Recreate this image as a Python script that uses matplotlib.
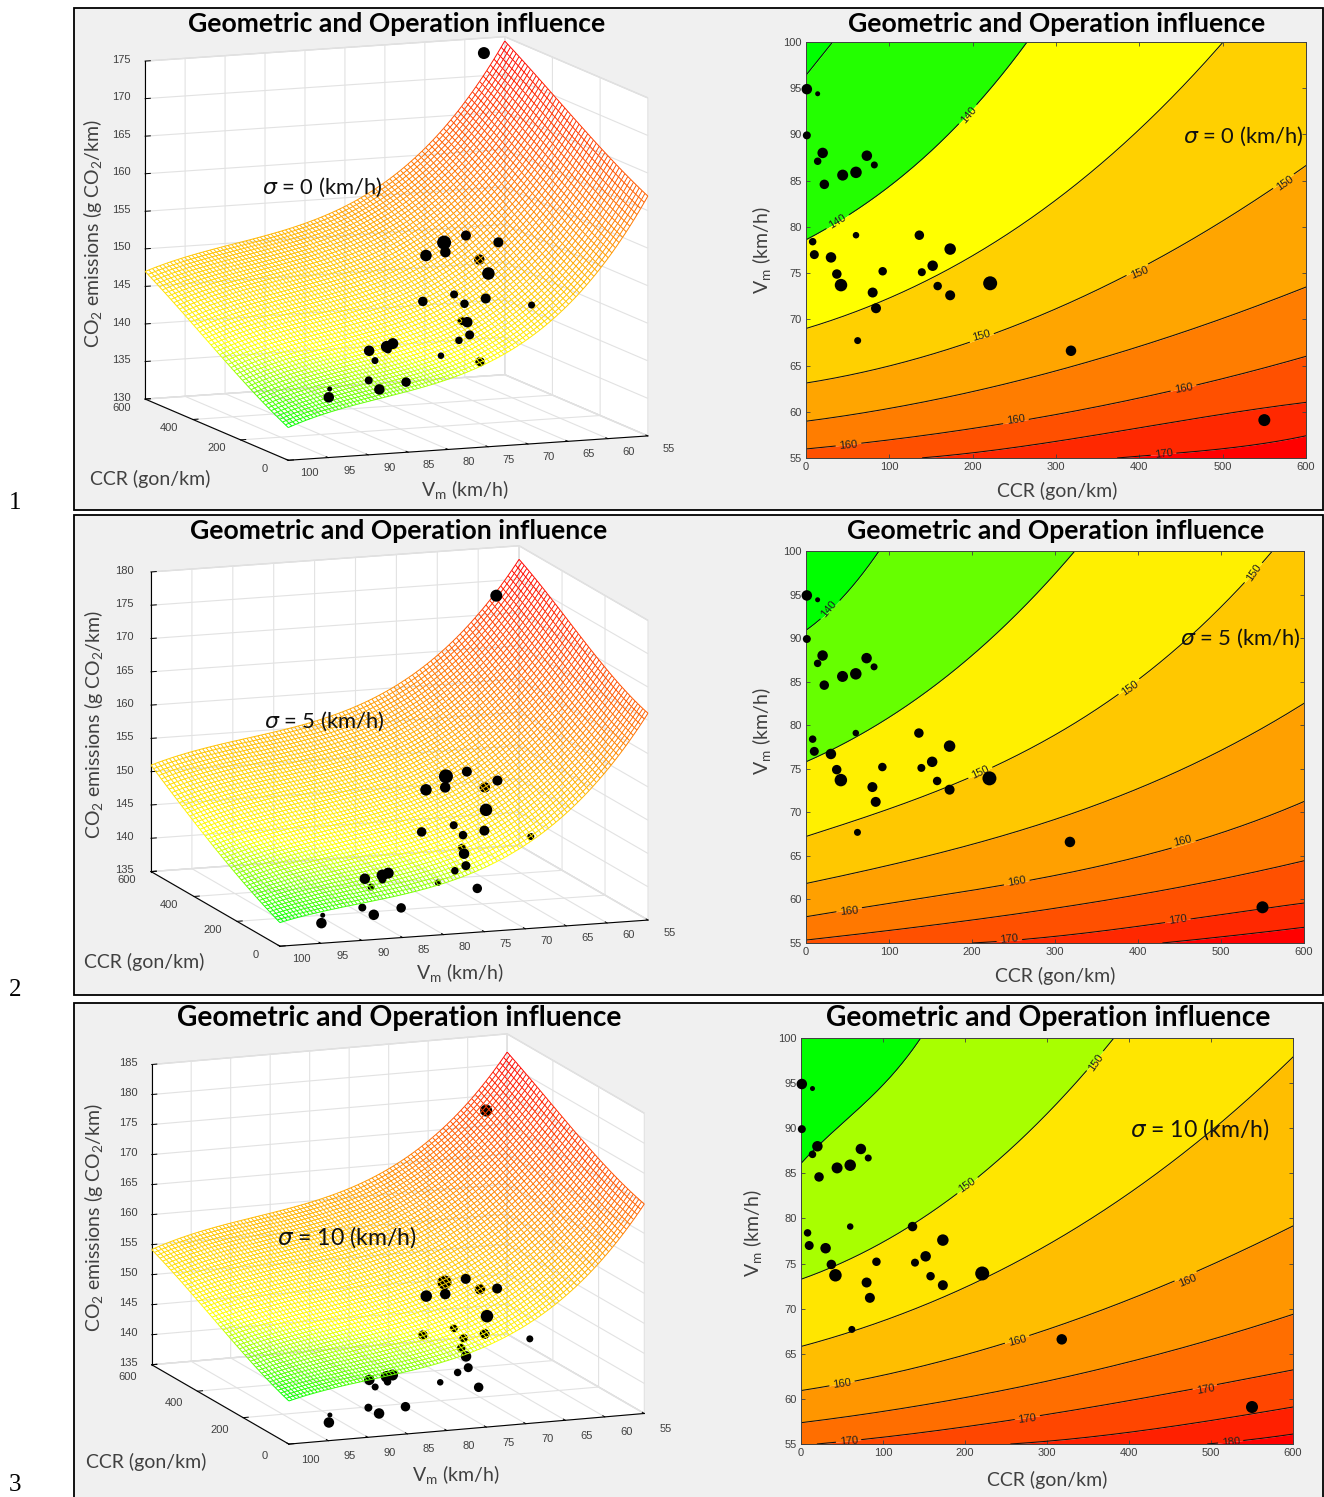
import numpy as np
import matplotlib
matplotlib.use("Agg")
import matplotlib.pyplot as plt
from matplotlib.colors import LinearSegmentedColormap
from matplotlib.patches import Rectangle
from mpl_toolkits.mplot3d import proj3d
from mpl_toolkits.mplot3d.art3d import Line3DCollection

W, H = 1324, 1497
plt.rcParams['font.family'] = ['Lato', 'DejaVu Sans']
plt.rcParams['mathtext.fontset'] = 'dejavusans'

# ---------- data ----------
DOT_CCR = [1, 14, 1, 20, 14, 22, 44, 60, 73, 82, 60, 8, 10, 30, 37, 42, 62, 80, 84, 92, 136, 139, 152, 158, 173, 173, 221, 318, 550]
DOT_VM = [94.9, 94.4, 89.9, 88, 87.1, 84.6, 85.6, 85.9, 87.7, 86.7, 79.1, 78.4, 77, 76.7, 74.9, 73.7, 67.7, 72.9, 71.2, 75.2, 79.1, 75.1, 75.8, 73.6, 77.6, 72.6, 73.9, 66.6, 59.1]
DOT_CO2 = [138.0, 138.9, 139.9, 138.3, 143.6, 139.0, 143.9, 143.3, 142.7, 141.2, 141.6, 144.3, 144.9, 146.3, 140.8, 152.4, 147.5, 148.5, 155.8, 147.8, 147.8, 148.4, 153.9, 144.5, 153.3, 155.6, 154.1, 150.0, 173.8]
DOT_DIAM_PX = [10.5, 5, 8, 10.5, 7.5, 9.5, 11, 11.5, 10.5, 7, 6.5, 7.5, 9, 10.5, 9.5, 12.5, 7, 10, 10, 8.5, 9.5, 8, 10.5, 8.5, 11.5, 10, 14, 10.5, 12]

CCR_TICKS = [0, 100, 200, 300, 400, 500, 600]
CCR_TICKS_3D = [0, 200, 400, 600]
VM_TICKS = [55, 60, 65, 70, 75, 80, 85, 90, 95, 100]
SIGMA_LABELS = ["0", "5", "10"]

LEVELS_0 = [135, 140, 145, 150, 155, 160, 165, 170]
CURVE_CCR_0 = [[0, 32], [0, 100, 200, 250, 266], [0, 100, 200, 300, 400, 500],
               [0, 100, 200, 300, 400, 500, 600], [0, 100, 200, 300, 400, 500, 600],
               [0, 100, 200, 300, 400, 500, 600], [140, 200, 300, 400, 500, 600], [373, 400, 500, 600]]
CURVE_VM_0 = [[96.4, 100], [78.6, 84.4, 92.7, 98.3, 100], [69.0, 72.3, 77, 82.7, 90.7, 99.9],
              [63.1, 64.9, 67.8, 71.2, 75.0, 81.1, 86.5], [59.0, 60.3, 62.2, 64.5, 67.0, 70.1, 73.5],
              [56, 56.9, 58.2, 59.8, 61.4, 63.6, 66], [55, 55.6, 56.8, 58.2, 59.8, 61.0], [55, 55.2, 56, 57.4]]
CORNERS_0 = [134.4, 147.0, 162.0, 174.5]

LEVELS_5 = [140, 145, 150, 155, 160, 165, 170, 175]
CURVE_CCR_5 = [[0, 50, 88], [0, 100, 200, 300, 324], [0, 100, 200, 300, 400, 500, 561],
               [0, 100, 200, 300, 400, 500, 600], [0, 100, 200, 300, 400, 500, 600],
               [0, 100, 200, 300, 400, 500, 600], [198, 300, 400, 500, 600], [429, 500, 600]]
CURVE_VM_5 = [[90.9, 95.3, 100], [75.8, 80.9, 88, 97.4, 100], [67.3, 70.2, 74.2, 79, 85.2, 93.4, 100],
              [61.9, 63.8, 66.2, 69.5, 72.7, 76.9, 82.6], [58.1, 59.3, 61.2, 62.8, 64.9, 67.5, 71.3],
              [55.4, 56.3, 57.6, 59.2, 60.5, 62.2, 64.5], [55, 55.7, 57, 58.2, 59.6], [55, 55.7, 56.8]]
CORNERS_5 = [138.6, 151.0, 166.2, 178.0]

LEVELS_10 = [145, 150, 155, 160, 165, 170, 175, 180]
CURVE_CCR_10 = [[0, 50, 100, 146], [0, 100, 200, 300, 381], [0, 100, 200, 300, 400, 500, 600],
                [0, 100, 200, 300, 400, 500, 600], [0, 100, 200, 300, 400, 500, 600],
                [18, 100, 200, 300, 400, 500, 600], [255, 300, 400, 500, 600], [495, 550, 600]]
CURVE_VM_10 = [[86.1, 90.5, 94.8, 100], [73.3, 77.2, 83.7, 91.4, 100], [65.8, 68.7, 72.2, 77.2, 82.7, 89.7, 97.9],
               [61, 62.4, 65, 67.8, 70.9, 74.8, 79.2], [57.4, 58.5, 60.2, 62, 64.1, 66.5, 69.4],
               [55, 55.7, 57, 58.2, 59.8, 61.5, 63.2], [55, 55.3, 56.3, 57.6, 59.1], [55, 55.5, 56.1]]
CORNERS_10 = [142.2, 154.2, 170.0, 182.0]

LABEL_CCR_0 = [195, 38, 575, 400, 210, 453, 252, 51, 429]
LABEL_VM_0 = [92.1, 80.6, 84.7, 75, 68.2, 62.5, 59.1, 56.4, 55.4]
LABEL_TXT_0 = ["140", "140", "150", "150", "150", "160", "160", "160", "170"]
LABEL_ROT_0 = [50, 32, 35, 22, 15, 10, 8, 5, 7]
LABEL_CCR_5 = [28, 540, 390, 210, 454, 254, 52, 448, 245]
LABEL_VM_5 = [93.3, 97.5, 84.3, 74.6, 66.7, 62.1, 58.7, 57.7, 55.4]
LABEL_TXT_5 = ["140", "150", "150", "150", "160", "160", "160", "170", "170"]
LABEL_ROT_5 = [50, 55, 35, 25, 13, 10, 5, 8, 6]
LABEL_CCR_10 = [360, 202, 471, 264, 50, 493, 276, 58, 524]
LABEL_VM_10 = [97.3, 83.7, 73.1, 66.4, 61.7, 61.1, 57.8, 55.3, 55.2]
LABEL_TXT_10 = ["150", "150", "160", "160", "160", "170", "170", "170", "180"]
LABEL_ROT_10 = [55, 35, 22, 14, 8, 10, 7, 5, 5]

# ---------- styles and layout ----------
BANDS = [
    ['#00FF00', '#23FF00', '#FFFF00', '#FFD000', '#FFA500', '#FF7D00', '#FF5000', '#FF2800', '#FF0000'],
    ['#00FF00', '#66FF00', '#FFF000', '#FFC800', '#FFA000', '#FF7800', '#FF5000', '#FF2800', '#FF0000'],
    ['#00FF00', '#A8FF00', '#FFE600', '#FFBE00', '#FF9600', '#FF6E00', '#FF4600', '#FF2000', '#FF0000'],
]
GREY = '#404040'
BG = '#F0F0F0'
CMAP = LinearSegmentedColormap.from_list('gyr', [(0, '#00FF00'), (0.17, '#FFFF00'), (1, '#FF0000')])

PANELS = [
    dict(rect=(74, 8, 1323, 510), num=("1", 15, 503),
         title3=(397, 24, 19.1), title2=(1057, 24, 19.1),
         box=(806, 42, 1306, 458), cx=396.5, cy=248.5, a=387, c=343, az=158.3, el=9.8,
         zlim=(130, 175), zticks=range(130, 176, 5),
         vlab=(-88, 4), clab=7, zlab=(103, -3),
         ccr=(150, 479), vm=(465, 490), co2=(93, 233), rv=(762, 250), rc=(1057, 491),
         s3=(322, 187), s2=(1243, 136)),
    dict(rect=(74, 515, 1323, 995), num=("2", 15, 990),
         title3=(399, 531, 19.1), title2=(1056, 531, 19.1),
         box=(806, 551, 1304, 943), cx=399.5, cy=746, a=390, c=306, az=160.7, el=11.7,
         zlim=(135, 180), zticks=range(135, 181, 5),
         vlab=(-100, 0), clab=7, zlab=(103.2, -3),
         ccr=(144, 962), vm=(460, 973), co2=(94, 724), rv=(762, 731), rc=(1055, 976),
         s3=(324, 721), s2=(1240, 638)),
    dict(rect=(74, 1003, 1323, 1499), num=("3", 15, 1485),
         title3=(399, 1018, 20.3), title2=(1048, 1018, 20.3),
         box=(801, 1038, 1293, 1444), cx=398, cy=1239, a=381, c=308, az=158.9, el=12.9,
         zlim=(135, 185), zticks=range(135, 186, 5),
         vlab=(-95, 3), clab=10, zlab=(103, -4),
         ccr=(146, 1462), vm=(456, 1475), co2=(94, 1217), rv=(753, 1233), rc=(1047, 1480),
         s3=(347, 1237), s2=(1200, 1129)),
]
DATASETS = [
    (LEVELS_0, CURVE_CCR_0, CURVE_VM_0, CORNERS_0, LABEL_CCR_0, LABEL_VM_0, LABEL_TXT_0, LABEL_ROT_0),
    (LEVELS_5, CURVE_CCR_5, CURVE_VM_5, CORNERS_5, LABEL_CCR_5, LABEL_VM_5, LABEL_TXT_5, LABEL_ROT_5),
    (LEVELS_10, CURVE_CCR_10, CURVE_VM_10, CORNERS_10, LABEL_CCR_10, LABEL_VM_10, LABEL_TXT_10, LABEL_ROT_10),
]

fig = plt.figure(figsize=(W / 100, H / 100), dpi=100, facecolor='white')


def fx(x):
    return x / W


def fy(y):
    return 1 - y / H


def fit_surface(levels, cc, vv, corners):
    """Smooth surface through the contour readings and the corner heights."""
    C, V, Z = [], [], []
    for lev, c, v in zip(levels, cc, vv):
        C += list(c); V += list(v); Z += [lev] * len(c)
    C += [0, 600, 0, 600]; V += [100, 100, 55, 55]; Z += list(corners)
    C, V, Z = np.array(C, float) / 600, (np.array(V, float) - 55) / 45, np.array(Z, float)
    wt = np.ones_like(Z); wt[-4:] = 3
    basis = lambda c, v: np.stack([c ** i * v ** j for i in range(4) for j in range(4)], -1)
    coef = np.linalg.lstsq(basis(C, V) * wt[:, None], Z * wt, rcond=None)[0]
    return lambda c, v: basis(np.asarray(c, float) / 600, (np.asarray(v, float) - 55) / 45) @ coef


def draw_3d(p, data):
    levels, cc, vv, corners = data[:4]
    S = 620
    asp = np.array([1, 1, p['c'] / p['a']])
    zoom = p['a'] * 1.85 / S / (1.8294640721620434 * 25 / 24 / np.linalg.norm(asp))
    f = 0.095 / 0.185
    left = p['cx'] - f * S
    top_px = p['cy'] + f * S
    ax = fig.add_axes([fx(left), fy(top_px), S / W, S / H], projection='3d',
                      proj_type='ortho', computed_zorder=False)
    ax.patch.set_alpha(0)
    ax.set_box_aspect(asp, zoom=zoom)
    ax.view_init(elev=p['el'], azim=p['az'])
    ax.set_xlim(0, 600); ax.set_ylim(55, 100); ax.set_zlim(*p['zlim'])
    ax.set_xticks(CCR_TICKS_3D); ax.set_yticks(VM_TICKS); ax.set_zticks(list(p['zticks']))
    ax.set_xticklabels([]); ax.set_yticklabels([]); ax.set_zticklabels([])
    for axis in (ax.xaxis, ax.yaxis, ax.zaxis):
        axis.set_pane_color('white')
        axis.pane.set_edgecolor('#D8D8D8')
        axis._axinfo['axisline'].update(color='#505050', linewidth=1.0)
        axis._axinfo['grid'].update(color='#E2E2E2', linewidth=0.8)
        axis._axinfo['tick'].update(color='#505050', linewidth={True: 0.7, False: 0.5},
                                    inward_factor=0.0, outward_factor=0.18)
    ax.zaxis.set_ticks_position('upper')

    pz = p['c'] * np.cos(np.radians(p['el'])) / (p['zlim'][1] - p['zlim'][0])
    zmin = p['zlim'][0]
    tk = dict(ha='center', va='center', fontsize=8, family='Liberation Sans', color=GREY, zorder=40)
    ax.apply_aspect()
    M = ax.get_proj()

    def put(x3, y3, z3, s):
        # tick label placed at the projected position of its 3D anchor
        xp, yp, _ = proj3d.proj_transform(x3, y3, z3, M)
        fxy = fig.transFigure.inverted().transform(ax.transData.transform((xp, yp)))
        fig.text(fxy[0], fxy[1], s, **tk)

    for v in VM_TICKS:
        put(p['vlab'][0], v, zmin - p['vlab'][1] / pz, str(v))
    for c in CCR_TICKS_3D:
        put(c, 103, zmin - p['clab'] / pz, str(c))
    for z in p['zticks']:
        put(600, p['zlab'][0], z - p['zlab'][1] / pz, str(z))

    surf = fit_surface(levels, cc, vv, corners)
    cs = np.linspace(0, 600, 51)
    vs = np.linspace(55, 100, 101)
    CC, VV = np.meshgrid(cs, vs)
    ZZ = surf(CC, VV)
    P = np.stack([CC, VV, ZZ], -1)
    segs = np.concatenate([np.stack([P[:-1, :], P[1:, :]], 2).reshape(-1, 2, 3),
                           np.stack([P[:, :-1], P[:, 1:]], 2).reshape(-1, 2, 3)])
    zm = segs[:, :, 2].mean(1)
    cols = CMAP((zm - ZZ.min()) / (ZZ.max() - ZZ.min()))
    ax.add_collection3d(Line3DCollection(segs, colors=cols, linewidths=0.7, zorder=2))

    c, v, z = np.array(DOT_CCR, float), np.array(DOT_VM, float), np.array(DOT_CO2, float)
    s = (np.array(DOT_DIAM_PX) * 0.72) ** 2
    below = z < surf(c, v)
    ax.scatter(c[below], v[below], z[below], s=s[below], c='k', linewidths=0, depthshade=False, zorder=1)
    ax.scatter(c[~below], v[~below], z[~below], s=s[~below], c='k', linewidths=0, depthshade=False, zorder=3)
    return ax


def draw_2d(p, data, colours):
    levels, cc, vv, _, lc, lv, lt, lr = data
    x0, y0, x1, y1 = p['box']
    ax = fig.add_axes([fx(x0), fy(y1), (x1 - x0) / W, (y1 - y0) / H])
    ax.set_xlim(0, 600); ax.set_ylim(55, 100)
    xs = np.linspace(0, 600, 601)
    curves = []
    for c, v in zip(cc, vv):
        coef = np.polyfit(c, v, min(3, len(c) - 1))
        y = np.polyval(coef, xs)
        y[xs < min(c)] = 55
        y[xs > max(c)] = 100
        curves.append(np.clip(y, 55, 100))
    ax.fill_between(xs, curves[0], 100, color=colours[0], lw=0, zorder=1)
    for i in range(len(curves) - 1):
        ax.fill_between(xs, curves[i + 1], curves[i], color=colours[i + 1], lw=0, zorder=1)
    ax.fill_between(xs, 55, curves[-1], color=colours[-1], lw=0, zorder=1)
    kx = (x1 - x0) / 600; ky = (y1 - y0) / 45
    for y in curves:
        yy = y.copy().astype(float)
        yy[(y <= 55) | (y >= 100)] = np.nan
        for a, b in zip(lc, lv):
            yy[np.hypot((xs - a) * kx, (y - b) * ky) < 13] = np.nan
        ax.plot(xs, yy, color='#101010', lw=0.75, zorder=2)
    for a, b, t, r in zip(lc, lv, lt, lr):
        ax.text(a, b, t, rotation=r, rotation_mode='anchor', ha='center', va='center',
                fontsize=8, family='Liberation Sans', color='#222222', zorder=3, clip_on=True)
    ax.scatter(DOT_CCR, DOT_VM, s=(np.array(DOT_DIAM_PX) * 0.72) ** 2, c='k', linewidths=0, zorder=4, clip_on=False)
    ax.set_xticks(CCR_TICKS); ax.set_yticks(VM_TICKS)
    ax.tick_params(direction='in', length=3, width=0.6, color=GREY, labelcolor=GREY, labelsize=8,
                   top=True, right=True, pad=3)
    for t in ax.get_xticklabels() + ax.get_yticklabels():
        t.set_family('Liberation Sans')
    for sp in ax.spines.values():
        sp.set_color(GREY); sp.set_linewidth(0.7)
    return ax


for p, data, colours, sig in zip(PANELS, DATASETS, BANDS, SIGMA_LABELS):
    x0, y0, x1, y1 = p['rect']
    fig.add_artist(Rectangle((fx(x0), fy(y1)), (x1 - x0) / W, (y1 - y0) / H, transform=fig.transFigure,
                             facecolor=BG, edgecolor='black', linewidth=1.3, zorder=-10))
    draw_3d(p, data)
    draw_2d(p, data, colours)
    T = dict(ha='center', va='center', zorder=50)
    for key in ('title3', 'title2'):
        tx, ty, sz = p[key]
        fig.text(fx(tx), fy(ty), "Geometric and Operation influence", fontsize=sz, fontweight='bold', color='black', **T)
    lab = dict(fontsize=14, color=GREY, **T)
    fig.text(fx(p['ccr'][0]), fy(p['ccr'][1]), "CCR (gon/km)", **lab)
    fig.text(fx(p['rc'][0]), fy(p['rc'][1]), "CCR (gon/km)", **lab)
    fig.text(fx(p['vm'][0]), fy(p['vm'][1]), r"V$_{\mathregular{m}}$ (km/h)", **lab)
    fig.text(fx(p['rv'][0]), fy(p['rv'][1]), r"V$_{\mathregular{m}}$ (km/h)", rotation=90, **lab)
    fig.text(fx(p['co2'][0]), fy(p['co2'][1]), r"CO$_{\mathregular{2}}$ emissions (g CO$_{\mathregular{2}}$/km)", rotation=90, **lab)
    sz = 16.6 if sig == "10" else 15.8
    for key in ('s3', 's2'):
        fig.text(fx(p[key][0]), fy(p[key][1]), rf"$\sigma$ = {sig} (km/h)", fontsize=sz, color='#111111', **T)
    n, nx, ny = p['num']
    fig.text(fx(nx), fy(ny), n, fontsize=18, family='Liberation Serif', color='black', **T)

fig.savefig('out.png', dpi=100, facecolor='white')
